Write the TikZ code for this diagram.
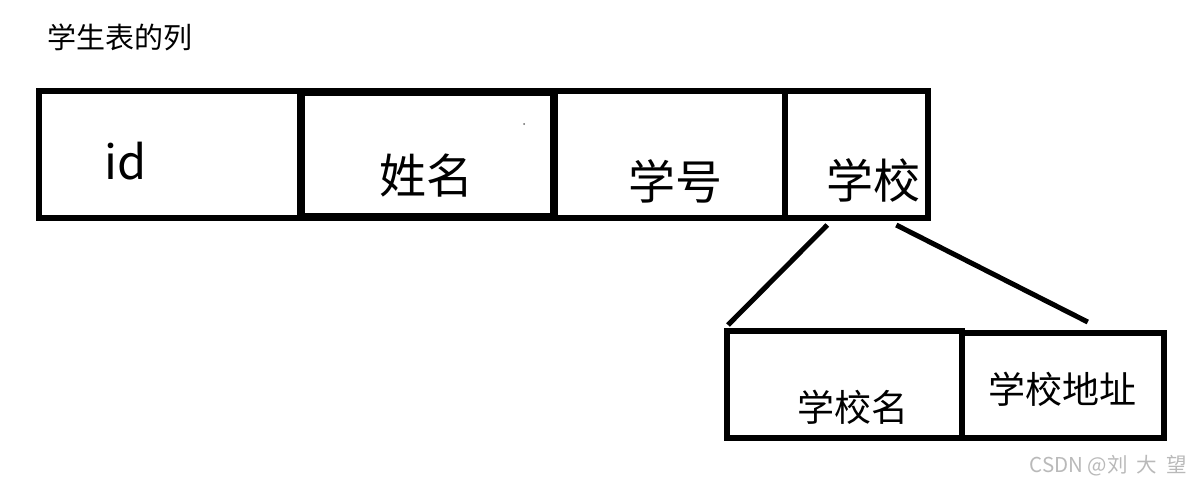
\documentclass[tikz,border=0pt]{standalone}
\usepackage{fontspec}
\setmainfont{Noto Sans CJK SC}
\usepackage{xcolor}
\usepackage{tikz}
\usetikzlibrary{positioning}

\definecolor{markgray}{RGB}{185,185,185}

\begin{document}
\begin{tikzpicture}[x=1pt, y=-1pt,
    cell/.style={draw, line width=6pt, inner sep=0pt, outer sep=0pt},
    bigtxt/.style={font=\fontsize{47}{52}\selectfont, inner sep=0pt},
    midtxt/.style={font=\fontsize{37}{42}\selectfont, inner sep=0pt}]
        \useasboundingbox (0,0) rectangle (1191,485);
        \node[font=\fontsize{29}{32}\selectfont, inner sep=0pt] (title) at (120,37) {学生表的列};
        % top row
        \node[cell, minimum width=261pt, minimum height=127pt] (idcell) at (169.5,154.5) {};
        \node[cell, line width=8pt, minimum width=253pt, minimum height=125pt] (namecell) at (427.5,154.5) {};
        \node[cell, right=0pt of namecell, minimum width=231pt, minimum height=127pt] (numcell) {};
        \node[cell, right=0pt of numcell, minimum width=142.5pt, minimum height=127pt] (school) {};
        \draw[cell, line width=8pt] (namecell.south west) rectangle (namecell.north east);
        \fill[black!60] (524,124) circle (1pt);
        \node[bigtxt] (idtxt) at (126,161) {id};
        \node[bigtxt] (nametxt) at (426,176) {姓名};
        \node[bigtxt] (numtxt) at (675,181) {学号};
        \node[bigtxt] (schtxt) at (873.5,180) {学校};
        % school split
        \node[cell, minimum width=234.5pt, minimum height=107pt] (schname) at (844.25,384) {};
        \node[cell, anchor=south west, minimum width=202.5pt, minimum height=104.5pt] (schaddr) at (schname.south east) {};
        \node[midtxt] (schnametxt) at (853,407) {学校名};
        \node[midtxt] (schaddrtxt) at (1062,389) {学校地址};
        \draw[line width=5pt] ([xshift=-29pt,yshift=-7pt]school.south) -- ([xshift=1pt,yshift=5.5pt]schname.north west);
        \draw[line width=5pt] ([xshift=40pt,yshift=-7pt]school.south) -- ([xshift=25pt,yshift=11pt]schaddr.north);
        \node[anchor=east, font=\fontsize{20.5}{23}\selectfont, text=markgray, inner sep=0pt] (mark) at (1187,466) {CSDN @刘\hspace{9pt}大\hspace{9pt}望};
\end{tikzpicture}
\end{document}
